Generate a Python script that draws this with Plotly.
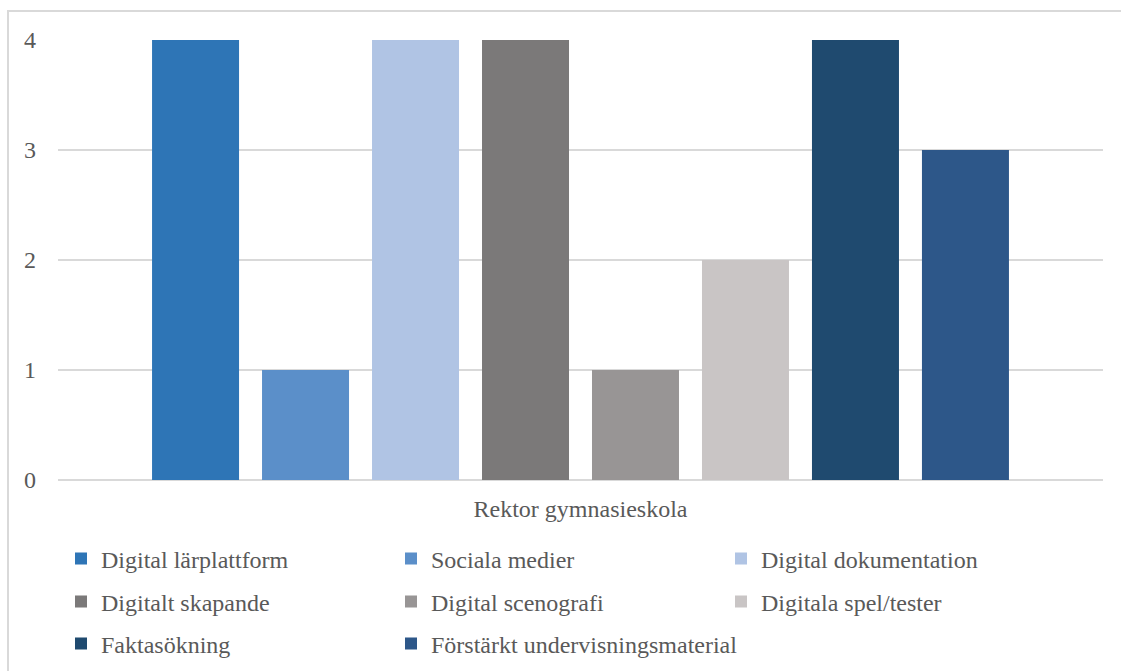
import plotly.graph_objects as go

category = ["Rektor gymnasieskola"]
series_names = [
    "Digital lärplattform",
    "Sociala medier",
    "Digital dokumentation",
    "Digitalt skapande",
    "Digital scenografi",
    "Digitala spel/tester",
    "Faktasökning",
    "Förstärkt undervisningsmaterial",
]
series_values = [4, 1, 4, 4, 1, 2, 4, 3]
series_colors = ["#2E75B6", "#5B8FC9", "#B0C4E4", "#7B7979", "#989595",
                 "#C9C5C5", "#1F4A6F", "#2D5789"]
y_ticks = [0, 1, 2, 3, 4]

FONT = "'Times New Roman', 'Liberation Serif', 'DejaVu Serif', serif"
legend_ids = ["legend", "legend", "legend", "legend2", "legend2", "legend2", "legend3", "legend4"]

fig = go.Figure()
for name, val, col, lg in zip(series_names, series_values, series_colors, legend_ids):
    fig.add_trace(go.Bar(x=category, y=[val], name=name, legend=lg,
                         marker=dict(color=col, line=dict(width=0))))

W, H = 1121, 671
ml, mr, mt, mb = 58, 18, 40, 191
pw, ph = W - ml - mr, H - mt - mb

row_centers = [559, 602, 644]
col_step = 330
leg_x = (61 - ml) / pw


def leg(row, col=0, entrywidth=285):
    return dict(orientation="h", x=leg_x + col * col_step / pw, xanchor="left",
                y=-(row_centers[row] - (mt + ph)) / ph, yanchor="middle",
                entrywidth=entrywidth, entrywidthmode="pixels",
                font=dict(family=FONT, size=24, color="#595959"), itemwidth=30,
                itemclick=False, bgcolor="rgba(0,0,0,0)")


fig.update_layout(
    width=W, height=H,
    margin=dict(l=ml, r=mr, t=mt, b=mb, pad=0, autoexpand=False),
    paper_bgcolor="white", plot_bgcolor="white",
    barmode="group", bargap=0.158, bargroupgap=0.209,
    font=dict(family=FONT, color="#595959", size=24),
    xaxis=dict(showgrid=False, showline=False, ticks="", tickfont=dict(family=FONT, size=24),
               ticklabelstandoff=12),
    yaxis=dict(range=[0, 4], tickvals=y_ticks, ticktext=[str(v) for v in y_ticks],
               showgrid=True, gridcolor="#D9D9D9", gridwidth=1.5,
               zeroline=True, zerolinecolor="#D9D9D9", zerolinewidth=1.5,
               showline=False, ticks="", tickfont=dict(family=FONT, size=24),
               ticklabelstandoff=21),
    legend=leg(0), legend2=leg(1), legend3=leg(2),
    legend4=leg(2, col=1, entrywidth=360),
    showlegend=True,
)

# outer chart border
fig.add_shape(type="rect", xref="paper", yref="paper",
              x0=(8 - ml) / pw, x1=(W + 10 - ml) / pw,
              y0=-(mb + 10) / ph, y1=1 + (mt - 11) / ph,
              line=dict(color="#D9D9D9", width=2), fillcolor="rgba(0,0,0,0)")

fig.write_html("out.html")
